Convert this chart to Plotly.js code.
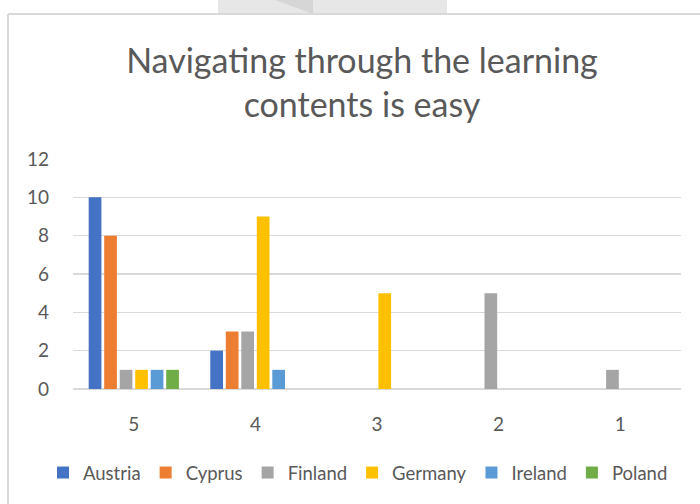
<!DOCTYPE html>
<html>
<head>
<meta charset="utf-8">
<script src="https://cdn.plot.ly/plotly-3.0.1.min.js"></script>
<style>
html,body{margin:0;padding:0;background:#fff;}
#chart{width:700px;height:504px;}
</style>
</head>
<body>
<div id="chart"></div>
<script>
const categories = ["5", "4", "3", "2", "1"];
const seriesNames = ["Austria", "Cyprus", "Finland", "Germany", "Ireland", "Poland"];
const austria = [10, 2, 0, 0, 0];
const cyprus  = [8, 3, 0, 0, 0];
const finland = [1, 3, 0, 5, 1];
const germany = [1, 9, 5, 0, 0];
const ireland = [1, 1, 0, 0, 0];
const poland  = [1, 0, 0, 0, 0];
const yTicks = [0, 2, 4, 6, 8, 10, 12];
const titleText = "Navigating through the learning<br>contents is easy";

const values = [austria, cyprus, finland, germany, ireland, poland];
const colors = ["#4472C4", "#ED7D31", "#A5A5A5", "#FFC000", "#5B9BD5", "#70AD47"];

const FONT = "Lato, 'Open Sans', sans-serif";
const data = seriesNames.map((n, i) => ({
  type: "bar",
  name: n,
  x: categories,
  y: values[i],
  marker: {color: colors[i], line: {width: 0}},
  hoverinfo: "x+y+name"
}));

// pixel -> paper helpers for decorative frame
const L = 73, R = 19, T = 159, B = 115, W = 700, H = 504;
const pw = W - L - R, ph = H - T - B;
const px = v => (v - L) / pw;
const py = v => (H - B - v) / ph;

const layout = {
  width: W, height: H,
  margin: {l: L, r: R, t: T, b: B, pad: 0, autoexpand: false},
  paper_bgcolor: "#ffffff",
  plot_bgcolor: "#ffffff",
  font: {family: FONT, color: "#595959", size: 19},
  title: {
    text: titleText,
    font: {family: FONT, size: 34, color: "#595959"},
    xref: "container", yref: "container",
    x: 362 / W, xanchor: "center",
    y: 1 - 73 / H, yanchor: "middle"
  },
  barmode: "group",
  bargap: 0.235,
  bargroupgap: 0.18,
  xaxis: {
    type: "category",
    categoryorder: "array",
    categoryarray: categories,
    showgrid: false,
    showline: false,
    ticks: "",
    tickfont: {size: 19, color: "#595959"},
    ticklabelstandoff: 22
  },
  yaxis: {
    range: [0, 12],
    tickvals: yTicks,
    showgrid: true,
    gridcolor: "#d9d9d9",
    gridwidth: 1.5,
    zeroline: true,
    zerolinecolor: "#d9d9d9",
    zerolinewidth: 1.5,
    showline: false,
    ticks: "",
    tickfont: {size: 19, color: "#595959"},
    ticklabelstandoff: 23
  },
  legend: {
    orientation: "h",
    xref: "paper", yref: "paper",
    x: px(43), xanchor: "left",
    y: py(473), yanchor: "middle",
    font: {size: 18.5, color: "#595959"},
    itemwidth: 30,
    traceorder: "normal",
    tracegroupgap: 0
  },
  shapes: [
    // watermark remnant at top
    {type: "rect", xref: "paper", yref: "paper", x0: px(218), x1: px(447), y0: py(14), y1: py(0),
     fillcolor: "#e7e7e7", line: {width: 0}, layer: "below"},
    {type: "path", xref: "paper", yref: "paper",
     path: `M ${px(275)} ${py(0)} L ${px(313)} ${py(0)} L ${px(313)} ${py(14)} Z`,
     fillcolor: "#d6d6d6", line: {width: 0}, layer: "below"},
    // chart frame
    {type: "line", xref: "paper", yref: "paper", x0: px(8), x1: px(700), y0: py(14), y1: py(14),
     line: {color: "#d9d9d9", width: 2}},
    {type: "line", xref: "paper", yref: "paper", x0: px(8), x1: px(8), y0: py(14), y1: py(504),
     line: {color: "#d9d9d9", width: 2}}
  ]
};

Plotly.newPlot("chart", data, layout, {displayModeBar: false, staticPlot: true});
</script>
</body>
</html>
